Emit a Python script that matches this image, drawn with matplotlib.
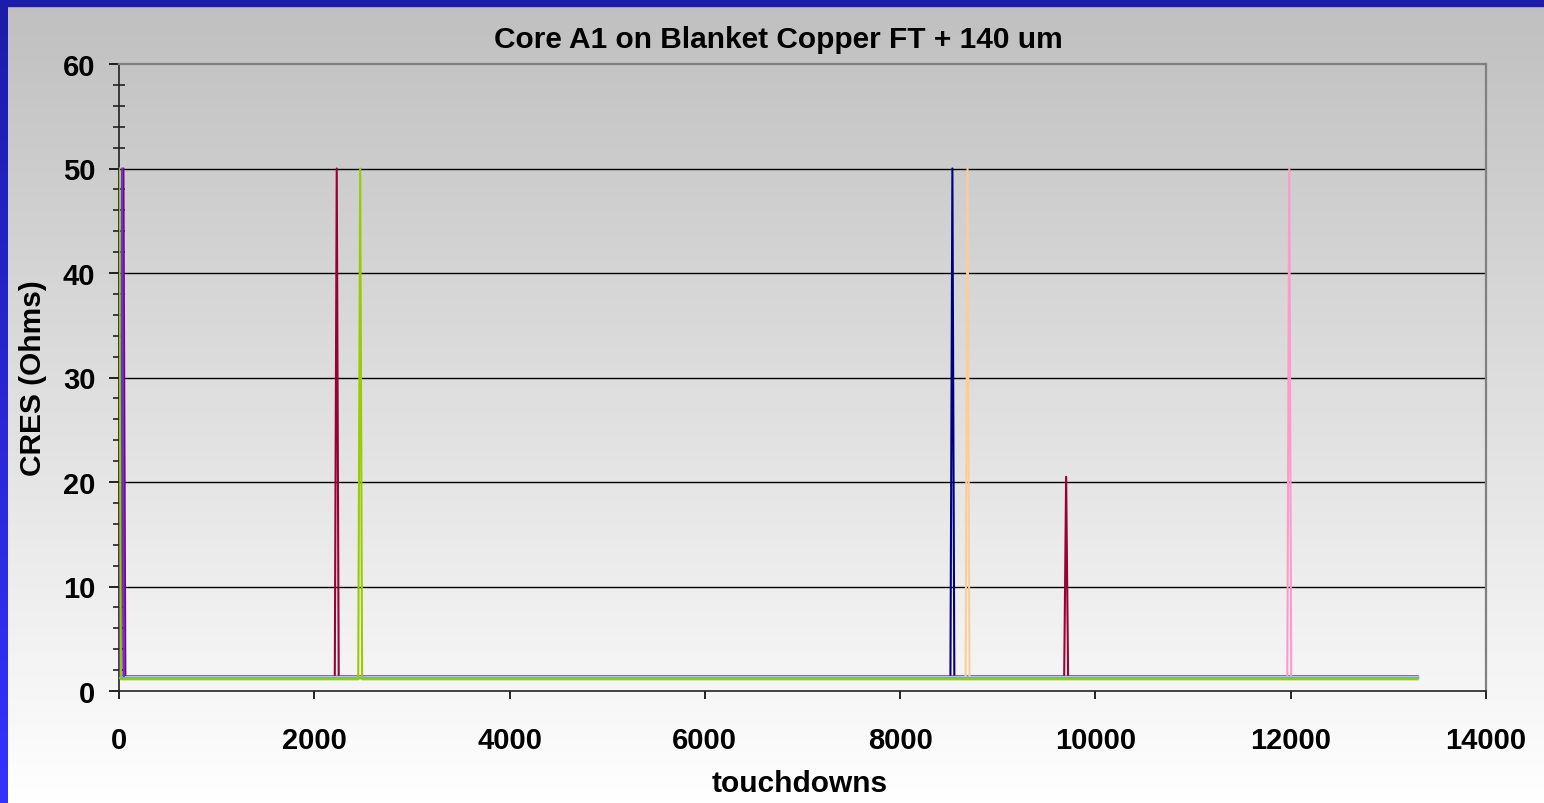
"""
CRES vs touchdowns - Core A1 on Blanket Copper FT + 140 um
"""
import numpy as np
import matplotlib
matplotlib.use("Agg")
import matplotlib.pyplot as plt
from matplotlib.patches import Rectangle
from matplotlib.ticker import MultipleLocator

# ─────────────────────────────────────────────
# DATA
# ─────────────────────────────────────────────
TD_END = 13300           # last touchdown of every run
HALF_STEP = 20           # half the sampling interval around a spike

# one entry per pin; baseline CRES in Ohms
series_colors = [
    "#000080", "#FF00FF", "#FFFF00", "#00FFFF", "#800080", "#990033",
    "#008080", "#0000FF", "#00CCFF", "#CCFFCC", "#99CCFF", "#FF99CC",
    "#CC99FF", "#FFCC99", "#6633CC", "#33CCCC", "#99CC00",
]
base_levels = [
    1.35, 1.38, 1.30, 1.28, 1.36, 1.37,
    1.25, 1.33, 1.26, 1.22, 1.27, 1.34,
    1.31, 1.29, 1.24, 1.21, 1.12,
]
# spikes: series index -> list of (touchdown, CRES)
spikes = {
    16: [(0, 50), (2470, 50)],      # yellow-green
    14: [(30, 50)],                 # violet
    4:  [(45, 50)],                 # purple
    5:  [(2230, 50), (9700, 20.5)], # crimson
    0:  [(8535, 50)],               # navy
    13: [(8690, 50)],               # peach
    11: [(11985, 50)],              # pink
}

x_ticks = [0, 2000, 4000, 6000, 8000, 10000, 12000, 14000]
y_ticks = [0, 10, 20, 30, 40, 50, 60]

TITLE  = "Core A1 on Blanket Copper FT + 140 um"
XLABEL = "touchdowns"
YLABEL = "CRES (Ohms)"


def build_series(level, spike_list):
    xs, ys = [], []
    if not spike_list or spike_list[0][0] > 0:
        xs.append(0); ys.append(level)
    for pos, peak in spike_list:
        if pos > 0:
            xs.append(pos - HALF_STEP); ys.append(level)
        xs.append(pos); ys.append(peak)
        xs.append(pos + HALF_STEP); ys.append(level)
    xs.append(TD_END); ys.append(level)
    return xs, ys


# ─────────────────────────────────────────────
# FIGURE
# ─────────────────────────────────────────────
W, H = 1544, 804
plt.rcParams["font.family"] = ["Liberation Sans", "DejaVu Sans"]
fig = plt.figure(figsize=(W / 100, H / 100), dpi=100)

# background: gray -> white gradient with blue frame top/left
bg = fig.add_axes([0, 0, 1, 1], zorder=-10)
g = np.linspace(0.75, 1.0, 256)[:, None]
bg.imshow(np.dstack([g, g, g]), aspect="auto", extent=[0, 1, 0, 1],
          origin="upper", interpolation="bilinear")
b = np.linspace(0, 1, 256)[:, None]
blue_img = np.dstack([0.11 + 0.09 * b, 0.11 + 0.09 * b, 0.66 + 0.34 * b])
bg.imshow(blue_img, aspect="auto", extent=[0, 8 / W, 0, 1],
          origin="upper", interpolation="bilinear")
bg.add_patch(Rectangle((0, 1 - 7 / H), 1, 7 / H, color="#1C1CA8"))
bg.set_xlim(0, 1); bg.set_ylim(0, 1)
bg.set_axis_off()

ax = fig.add_axes([119 / W, 1 - 692 / H, (1486 - 119) / W, (692 - 65) / H])
ax.set_facecolor("none")

for i, (c, lvl) in enumerate(zip(series_colors, base_levels)):
    xs, ys = build_series(lvl, spikes.get(i, []))
    ax.plot(xs, ys, color=c, lw=1.5, zorder=3)

ax.set_xlim(0, 14000)
ax.set_ylim(0, 60)
ax.set_xticks(x_ticks)
ax.set_yticks(y_ticks)
ax.yaxis.set_minor_locator(MultipleLocator(2))

for y in y_ticks[1:-1]:
    ax.axhline(y, color="black", lw=1.0, zorder=1)

for side in ["top", "right"]:
    ax.spines[side].set_color("#808080")
    ax.spines[side].set_linewidth(1.6)
for side in ["left", "bottom"]:
    ax.spines[side].set_color("#222222")
    ax.spines[side].set_linewidth(1.2)

ax.tick_params(axis="y", which="major", direction="out", length=7,
               width=1.2, pad=10, labelsize=21)
ax.tick_params(axis="y", which="minor", direction="inout", length=8,
               width=1.2, color="#222222")
ax.tick_params(axis="x", which="major", direction="out", length=6,
               width=1.2, pad=19, labelsize=21)
for lab in ax.get_xticklabels() + ax.get_yticklabels():
    lab.set_fontweight("bold")

fig.text(778 / W, 1 - 40 / H, TITLE, ha="center", va="center",
         fontsize=21.5, fontweight="bold")
fig.text(800 / W, 1 - 784 / H, XLABEL, ha="center", va="center",
         fontsize=21.5, fontweight="bold")
fig.text(33 / W, 1 - 378 / H, YLABEL, ha="center", va="center",
         rotation=90, fontsize=21.5, fontweight="bold")

fig.savefig("out.png", dpi=100)
